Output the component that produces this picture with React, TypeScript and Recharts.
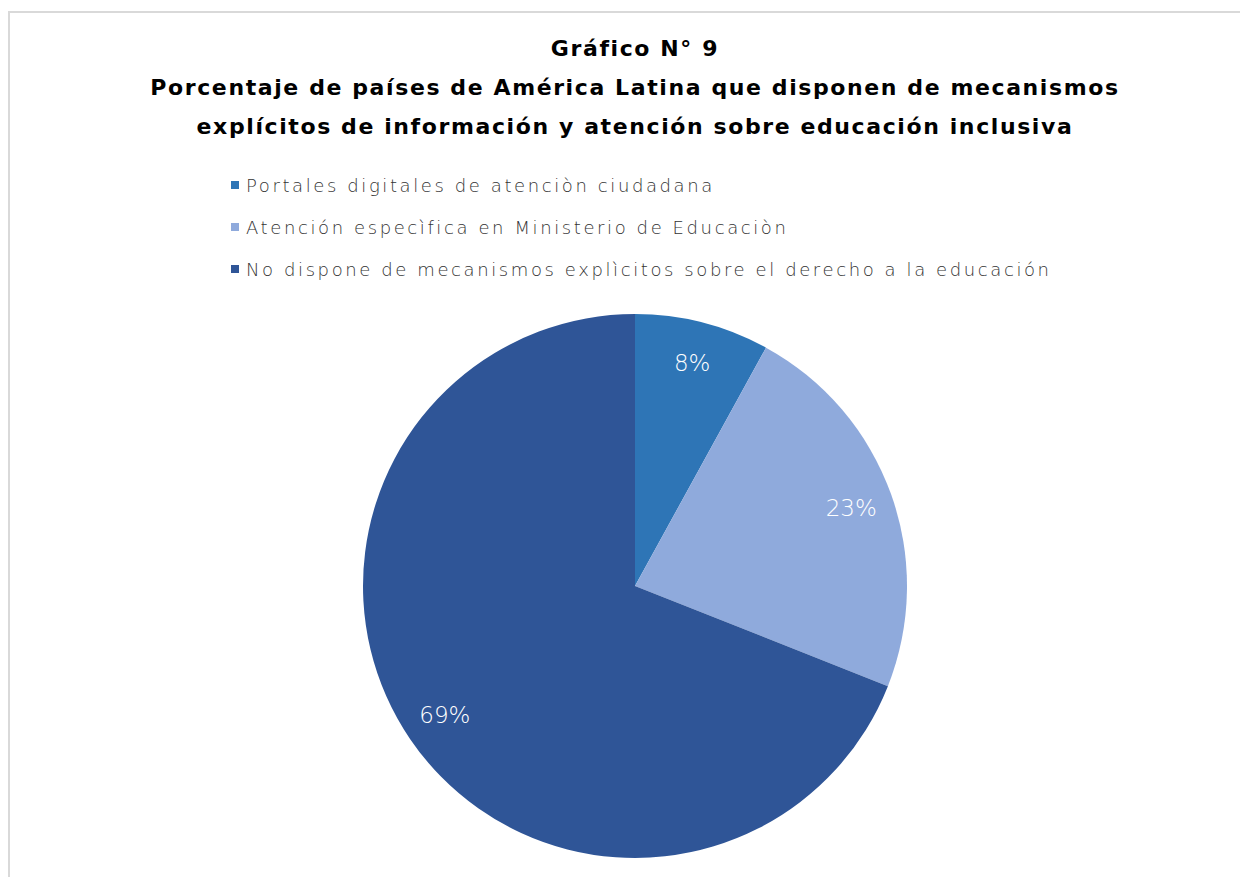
import React from "react";
import { PieChart, Pie, Cell, Legend } from "recharts";

const categories = [
  "Portales digitales de atenciòn ciudadana",
  "Atención especìfica en Ministerio de Educaciòn",
  "No dispone de mecanismos explìcitos sobre el derecho a la educación",
];
const values = [8, 23, 69];
const colors = ["#2E75B6", "#8FAADC", "#2F5597"];
const titleLines = [
  "Gráfico N° 9",
  "Porcentaje de países de América Latina que disponen de mecanismos",
  "explícitos de información y atención sobre educación inclusiva",
];

const data = categories.map((name, i) => ({ name, value: values[i] }));

const RAD = Math.PI / 180;

const renderLabel = (props: any) => {
  const { cx, cy, midAngle, outerRadius, value } = props;
  const r = outerRadius * 0.845;
  const x = cx + r * Math.cos(-midAngle * RAD);
  const y = cy + r * Math.sin(-midAngle * RAD);
  return (
    <text
      x={x}
      y={y}
      fill="#ffffff"
      textAnchor="middle"
      dominantBaseline="central"
      fontFamily="'DejaVu Sans', sans-serif"
      fontWeight={200}
      fontSize={23}
    >
      {`${value}%`}
    </text>
  );
};

const LegendContent = (props: any) => {
  const payload = [...(props.payload || [])].sort(
    (a: any, b: any) => categories.indexOf(a.value) - categories.indexOf(b.value)
  );
  return (
    <div>
      {payload.map((p: any, i: number) => (
        <div
          key={i}
          style={{
            display: "flex",
            alignItems: "center",
            height: 42,
            fontFamily: "'DejaVu Sans', sans-serif",
            fontWeight: 200,
            fontSize: 18,
            letterSpacing: 2.6,
            color: "#333333",
            whiteSpace: "nowrap",
          }}
        >
          <span
            style={{
              display: "inline-block",
              width: 8,
              height: 8,
              background: p.color,
              marginRight: 7,
            }}
          />
          {p.value}
        </div>
      ))}
    </div>
  );
};

export default function App() {
  return (
    <div
      style={{
        position: "relative",
        width: 1240,
        height: 869,
        overflow: "hidden",
        background: "#fff",
      }}
    >
      <div
        style={{
          position: "absolute",
          left: 0,
          top: 3,
          width: 1300,
          height: 1000,
          border: "2px solid #d9d9d9",
          boxSizing: "border-box",
        }}
      />
      <div
        style={{
          position: "absolute",
          left: 0,
          top: 21,
          width: 1254,
          textAlign: "center",
          fontFamily: "'DejaVu Sans', sans-serif",
          fontWeight: "bold",
          fontSize: 22,
          letterSpacing: 1.6,
          color: "#000",
          lineHeight: "39px",
        }}
      >
        {titleLines.map((t, i) => (
          <div key={i}>{t}</div>
        ))}
      </div>
      <div style={{ position: "absolute", left: 0, top: 0 }}>
        <PieChart width={1240} height={869} margin={{ top: 0, right: 0, bottom: 0, left: 0 }}>
          <Pie
            data={data}
            dataKey="value"
            nameKey="name"
            cx={627}
            cy={578}
            outerRadius={272}
            startAngle={90}
            endAngle={-270}
            stroke="none"
            label={renderLabel}
            labelLine={false}
            isAnimationActive={false}
          >
            {data.map((d, i) => (
              <Cell key={d.name} fill={colors[i]} />
            ))}
          </Pie>
          <Legend
            content={<LegendContent />}
            layout="vertical"
            verticalAlign="middle"
            align="center"
            wrapperStyle={{ left: 223, top: 156, width: 900 }}
          />
        </PieChart>
      </div>
    </div>
  );
}
